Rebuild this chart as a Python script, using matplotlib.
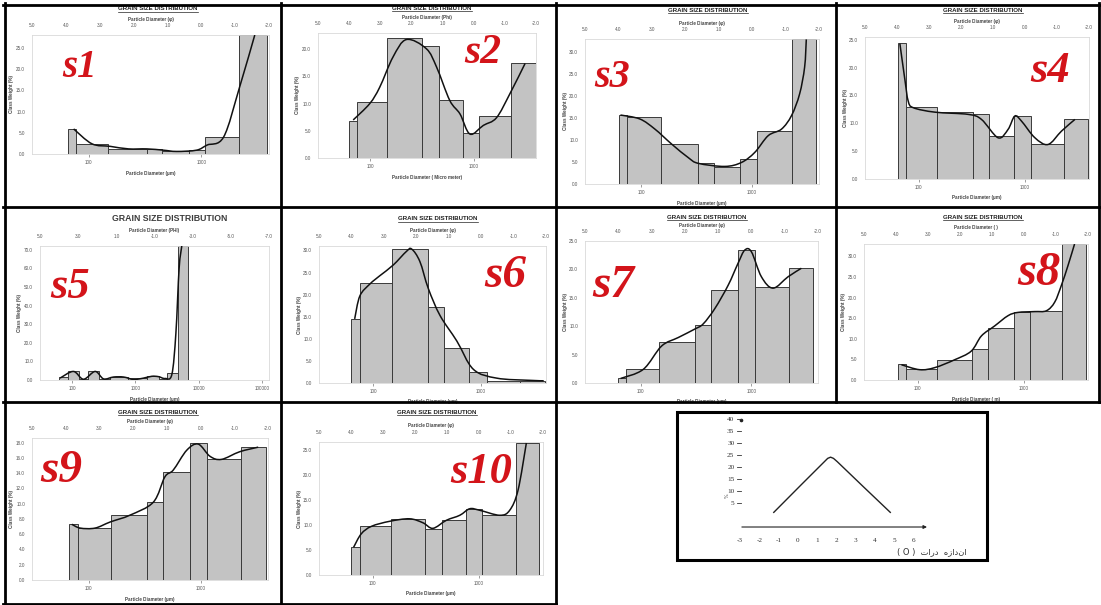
import numpy as np
import matplotlib.pyplot as plt
from matplotlib.path import Path
from matplotlib.patches import PathPatch, Rectangle
from matplotlib.lines import Line2D

# ---- sieve data: bar edges in phi, class weight (%) and the fitted curve ----
s1_edges = [3.95, 3.70, 2.75, 1.60, 1.15, 0.35, -0.10, -1.10, -1.95]
s1_weight = [6.0, 2.4, 1.2, 1.2, 0.6, 1.0, 4.0, 28.0]
s1_curve_phi = [3.77, 3.23, 2.69, 2.15, 1.61, 1.12, 0.73, 0.14, -0.17, -0.66, -1.13, -1.58]
s1_curve_pct = [5.9, 2.4, 1.8, 1.2, 1.2, 0.9, 0.6, 0.9, 2.1, 4.0, 15.7, 28.0]

s2_edges = [4.01, 3.75, 2.78, 1.65, 1.12, 0.35, -0.18, -1.20, -1.99]
s2_weight = [6.9, 10.3, 22.0, 20.6, 10.6, 4.6, 7.7, 17.4]
s2_curve_phi = [3.87, 3.34, 3.02, 2.59, 2.16, 1.52, 1.19, 0.77, 0.44, 0.12, -0.31, -0.73, -1.16, -1.65]
s2_curve_pct = [7.0, 10.0, 13.0, 18.6, 21.8, 20.1, 16.7, 10.6, 8.1, 4.4, 6.0, 7.4, 11.8, 17.4]

s3_edges = [3.97, 3.73, 2.73, 1.63, 1.14, 0.37, -0.15, -1.18, -1.92]
s3_weight = [15.8, 15.2, 9.1, 4.8, 3.9, 5.6, 12.0, 32.9]
s3_curve_phi = [3.94, 3.36, 2.91, 2.41, 1.91, 1.61, 0.82, 0.32, -0.08, -0.48, -0.88, -1.18, -1.42, -1.57, -1.62]
s3_curve_pct = [15.7, 14.8, 12.5, 9.1, 6.0, 4.7, 4.0, 4.9, 7.2, 11.0, 12.5, 15.6, 20.5, 26.6, 32.9]

s4_edges = [3.96, 3.73, 2.74, 1.64, 1.13, 0.33, -0.19, -1.23, -1.98]
s4_weight = [24.5, 13.0, 12.0, 11.6, 7.7, 11.3, 6.2, 10.8]
s4_curve_phi = [3.91, 3.75, 3.65, 3.49, 2.81, 1.77, 1.36, 0.84, 0.53, 0.32, 0.11, -0.31, -0.72, -1.14, -1.56]
s4_curve_pct = [24.3, 17.7, 14.0, 12.8, 12.0, 11.6, 10.7, 7.4, 8.9, 11.3, 10.4, 7.4, 6.2, 8.6, 10.7]

s5_edges = [3.99, 3.51, 2.95, 2.46, 1.89, 1.33, 0.40, -0.59, -1.21, -1.64, -2.22, -2.74]
s5_weight = [1.8, 5.0, 0.5, 5.0, 0.8, 1.5, 1.0, 2.0, 0.8, 3.5, 72.0]
s5_curve_phi = [3.95, 3.25, 2.72, 2.11, 1.67, 1.15, 0.62, 0.10, -0.42, -0.86, -1.21, -1.56, -1.91, -2.12, -2.29, -2.43]
s5_curve_pct = [1.0, 4.6, 0.4, 4.6, 0.6, 1.6, 1.6, 0.3, 1.0, 2.0, 1.8, 0.8, 3.0, 25.0, 60.0, 72.0]

s6_edges = [4.00, 3.74, 2.76, 1.63, 1.13, 0.36, -0.18, -1.21, -1.98]
s6_weight = [14.5, 22.7, 30.3, 17.3, 7.9, 2.5, 0.5, 0.5]
s6_curve_phi = [3.90, 3.74, 3.43, 3.12, 2.71, 2.30, 2.14, 1.89, 1.63, 1.27, 0.75, 0.24, -0.48, -1.51, -1.93]
s6_curve_pct = [14.5, 19.7, 22.4, 24.3, 26.7, 29.8, 30.3, 27.5, 21.4, 15.3, 9.5, 3.1, 1.1, 0.6, 0.5]

s7_edges = [4.02, 3.77, 2.78, 1.70, 1.20, 0.40, -0.10, -1.13, -1.85]
s7_weight = [0.8, 2.4, 7.2, 10.2, 16.3, 23.4, 16.9, 20.2]
s7_curve_phi = [3.93, 3.25, 2.70, 2.20, 1.70, 1.45, 1.10, 0.70, 0.40, 0.20, 0.00, -0.30, -0.65, -1.10, -1.50]
s7_curve_pct = [0.8, 2.4, 6.5, 8.0, 9.5, 10.4, 13.1, 17.2, 21.1, 23.4, 23.1, 18.7, 16.7, 18.7, 20.2]

s8_edges = [3.94, 3.70, 2.72, 1.63, 1.13, 0.32, -0.18, -1.20, -1.93]
s8_weight = [3.9, 2.6, 4.9, 7.5, 12.7, 16.4, 16.8, 33.0]
s8_curve_phi = [3.83, 3.26, 2.79, 2.17, 1.65, 1.33, 0.92, 0.50, 0.19, -0.33, -0.70, -0.96, -1.17, -1.38, -1.58]
s8_curve_pct = [3.7, 2.5, 3.0, 4.9, 7.0, 10.7, 13.1, 15.6, 16.4, 16.6, 16.8, 18.9, 23.0, 27.9, 33.0]

s9_edges = [3.90, 3.65, 2.66, 1.60, 1.10, 0.32, -0.20, -1.19, -1.95]
s9_weight = [7.3, 6.8, 8.5, 10.2, 14.1, 17.9, 15.8, 17.4]
s9_curve_phi = [3.82, 3.57, 3.13, 2.68, 2.09, 1.40, 1.06, 0.81, 0.41, 0.07, -0.28, -0.62, -1.16, -1.71]
s9_curve_pct = [7.3, 6.8, 6.8, 7.6, 8.5, 10.2, 13.5, 14.4, 17.0, 17.8, 16.2, 15.8, 16.8, 17.4]

s10_edges = [3.99, 3.73, 2.76, 1.68, 1.16, 0.40, -0.10, -1.15, -1.88]
s10_weight = [5.5, 9.7, 11.2, 9.2, 11.0, 13.2, 11.9, 26.3]
s10_curve_phi = [3.92, 3.68, 3.36, 2.79, 2.17, 1.75, 1.44, 1.02, 0.60, 0.29, -0.02, -0.65, -0.96, -1.22, -1.48]
s10_curve_pct = [5.5, 8.2, 9.7, 10.7, 11.2, 10.4, 9.3, 10.9, 11.9, 13.2, 12.9, 11.9, 12.9, 16.9, 26.3]

# schematic curve (phi vs %)
sketch_phi = [-1.25, 0.2, 1.35, 1.55, 1.7, 1.85, 2.05, 3.4, 4.8]
sketch_pct = [1.1, 12.8, 22.0, 23.6, 24.1, 23.6, 22.2, 11.8, 1.1]
sketch_xticks = [-3, -2, -1, 0, 1, 2, 3, 4, 5, 6]
sketch_yticks = [5, 10, 15, 20, 25, 30, 35, 40]

W, H = 1101, 605
fig = plt.figure(figsize=(W / 100, H / 100), dpi=100)
fig.patch.set_facecolor('white')

SANS = 'Liberation Sans'
RED = '#d3141a'


def px_rect(x0, x1, ytop, ybot):
    return [x0 / W, 1 - ybot / H, (x1 - x0) / W, (ybot - ytop) / H]


def smooth_path(xs, ys):
    # Catmull-Rom through the read points, as cubic bezier segments
    pts = np.column_stack([xs, ys]).astype(float)
    n = len(pts)
    verts = [pts[0]]
    codes = [Path.MOVETO]
    for i in range(n - 1):
        p0, p1 = pts[max(i - 1, 0)], pts[i]
        p2, p3 = pts[i + 1], pts[min(i + 2, n - 1)]
        verts += [p1 + (p2 - p0) / 6, p2 - (p3 - p1) / 6, p2]
        codes += [Path.CURVE4] * 3
    return Path(verts, codes)


def phi2um(p):
    return 1000.0 * 2.0 ** (-np.asarray(p, dtype=float))


def um2phi(d):
    return -np.log2(np.clip(np.asarray(d, dtype=float), 1e-9, None) / 1000.0)


def draw_panel(edges, weight, cphi, cpct, box, ymax, ystep, tag, tag_xy, tag_size,
               title_xy, phi_lim=(5, -2), phi_step=1, um_ticks=(100, 1000),
               top_label='Particle Diameter (φ)', bot_label='Particle Diameter (µm)',
               big_title=False):
    x0, x1, ytop, yzero = box
    ax = fig.add_axes(px_rect(x0, x1, ytop, yzero))
    ax.set_xlim(*phi_lim)
    ax.set_ylim(0, ymax)
    for s in ax.spines.values():
        s.set_color('#d9d9d9')
        s.set_linewidth(0.6)

    left = np.array(edges[:-1])
    right = np.array(edges[1:])
    ax.bar((left + right) / 2, weight, width=np.abs(right - left),
           color='#c3c3c3', edgecolor='#3a3a3a', linewidth=0.7, zorder=2)
    ax.add_patch(PathPatch(smooth_path(cphi, cpct), fill=False,
                           edgecolor='#111111', linewidth=1.1, zorder=3))

    # phi scale on top
    ph = np.arange(phi_lim[0], phi_lim[1] - 0.01, -phi_step)
    ax.xaxis.set_ticks_position('top')
    ax.set_xticks(ph)
    ax.set_xticklabels(['%.1f' % v for v in ph])
    ax.tick_params(axis='x', labelsize=3.3, labelcolor='#555555', length=0, pad=5)
    yt = np.arange(0, ymax + 0.01, ystep)
    ax.set_yticks(yt)
    ax.set_yticklabels(['%.1f' % v for v in yt])
    ax.tick_params(axis='y', labelsize=3.3, labelcolor='#555555', length=0, pad=5)
    for lab in ax.get_xticklabels() + ax.get_yticklabels():
        lab.set_fontfamily(SANS)

    # micrometre scale on the bottom
    sec = ax.secondary_xaxis('bottom', functions=(phi2um, um2phi))
    sec.set_xticks(list(um_ticks))
    sec.set_xticklabels([str(v) for v in um_ticks])
    sec.tick_params(labelsize=3.3, labelcolor='#555555', length=2, width=0.5,
                    color='#777777', pad=2)
    sec.spines['bottom'].set_visible(False)
    for lab in sec.get_xticklabels():
        lab.set_fontfamily(SANS)

    xc = (x0 + x1) / 2
    fig.text(xc / W, 1 - (ytop - 16) / H, top_label, ha='center', va='center',
             fontsize=3.3, fontweight='bold', color='#444444', family=SANS)
    fig.text(xc / W, 1 - (yzero + 19) / H, bot_label, ha='center', va='center',
             fontsize=3.3, fontweight='bold', color='#444444', family=SANS)
    fig.text((x0 - 20) / W, 1 - ((ytop + yzero) / 2) / H, 'Class Weight (%)',
             ha='center', va='center', rotation=90,
             fontsize=3.3, fontweight='bold', color='#444444', family=SANS)

    tx, ty = title_xy
    if big_title:
        fig.text(tx / W, 1 - ty / H, 'GRAIN SIZE DISTRIBUTION', ha='center', va='center',
                 fontsize=6.3, fontweight='bold', color='#3c3c3c', family=SANS)
    else:
        t = fig.text(tx / W, 1 - ty / H, 'GRAIN SIZE DISTRIBUTION', ha='center',
                     va='center', fontsize=4.4, fontweight='bold', color='#222222',
                     family=SANS)
        bb = t.get_window_extent(fig.canvas.get_renderer())
        yl = bb.y0 - 0.8
        fig.add_artist(Line2D([bb.x0 / W, bb.x1 / W], [yl / H, yl / H],
                              transform=fig.transFigure, color='#222222', lw=0.5))

    fig.text(tag_xy[0] / W, 1 - tag_xy[1] / H, tag, ha='left', va='baseline',
             fontsize=tag_size, fontweight='bold', fontstyle='italic',
             family='Liberation Serif', color=RED, zorder=5)
    return ax


draw_panel(s1_edges, s1_weight, s1_curve_phi, s1_curve_pct, (32, 269, 35, 154),
           28, 5, 's1', (62, 77), 28, (158, 9))
draw_panel(s2_edges, s2_weight, s2_curve_phi, s2_curve_pct, (318, 536, 33, 158),
           23, 5, 's2', (464, 63), 30, (432, 8),
           top_label='Particle Diameter (Phi)', bot_label='Particle Diameter ( Micro meter)')
draw_panel(s3_edges, s3_weight, s3_curve_phi, s3_curve_pct, (585, 819, 39, 184),
           33, 5, 's3', (594, 87), 29, (708, 10))
draw_panel(s4_edges, s4_weight, s4_curve_phi, s4_curve_pct, (865, 1089, 37, 179),
           25.5, 5, 's4', (1030, 82), 32, (983, 10))
draw_panel(s5_edges, s5_weight, s5_curve_phi, s5_curve_pct, (40, 269, 246, 380),
           72, 10, 's5', (50, 298), 32, (170, 219), phi_lim=(5, -7), phi_step=2,
           um_ticks=(100, 1000, 10000, 100000), top_label='Particle Diameter (PHI)',
           big_title=True)
draw_panel(s6_edges, s6_weight, s6_curve_phi, s6_curve_pct, (319, 546, 246, 383),
           31, 5, 's6', (484, 287), 34, (438, 219))
draw_panel(s7_edges, s7_weight, s7_curve_phi, s7_curve_pct, (585, 818, 241, 383),
           25, 5, 's7', (592, 297), 34, (707, 217))
draw_panel(s8_edges, s8_weight, s8_curve_phi, s8_curve_pct, (864, 1088, 244, 380),
           33, 5, 's8', (1017, 285), 35, (983, 217),
           top_label='Particle Diameter ( )', bot_label='Particle Diameter ( m)')
draw_panel(s9_edges, s9_weight, s9_curve_phi, s9_curve_pct, (32, 268, 438, 580),
           18.6, 2, 's9', (40, 482), 34, (158, 412))
draw_panel(s10_edges, s10_weight, s10_curve_phi, s10_curve_pct, (319, 543, 442, 575),
           26.5, 5, 's10', (450, 483), 32, (437, 412))

# ---- schematic sketch ----
axs = fig.add_axes(px_rect(700, 950, 415, 550))
axs.set_xlim(-5.08, 7.9)
axs.set_ylim(-14.58, 41.67)
axs.axis('off')
axs.plot(sketch_phi, sketch_pct, color='#222222', lw=1.0)
axs.annotate('', xy=(6.85, -5), xytext=(-3.05, -5),
             arrowprops=dict(arrowstyle='-|>', lw=0.8, color='#222222', mutation_scale=5))
axs.plot([-2.97], [39.6], marker='o', ms=1.6, color='#222222')
for v in sketch_yticks:
    axs.plot([-3.17, -2.95], [v, v], color='#333333', lw=0.6)
    axs.text(-3.3, v, str(v), ha='right', va='center', fontsize=5.2,
             family='Liberation Serif', color='#333333')
for v in sketch_xticks:
    axs.text(v, -10.7, str(v), ha='center', va='center', fontsize=5.2,
             family='Liberation Serif', color='#333333')
fig.text(727 / W, 1 - 496 / H, '%', rotation=90, ha='center', va='center',
         fontsize=3.5, color='#444444')
fig.text(967 / W, 1 - 552 / H, '( O )  تارد  هزادنا', ha='right', va='center',
         fontsize=6, family='DejaVu Sans', color='#333333')
fig.add_artist(Rectangle((677 / W, 1 - 560 / H), 310 / W, 148 / H,
                         transform=fig.transFigure, fill=False, lw=2.2,
                         edgecolor='black'))

# ---- cell frame ----
def hline(y, xa, xb, lw=2.0):
    fig.add_artist(Line2D([xa / W, xb / W], [1 - y / H, 1 - y / H],
                          transform=fig.transFigure, color='black', lw=lw, zorder=10))


def vline(x, ya, yb, lw=2.0):
    fig.add_artist(Line2D([x / W, x / W], [1 - ya / H, 1 - yb / H],
                          transform=fig.transFigure, color='black', lw=lw, zorder=10))


hline(4.5, 3, 1101)
hline(206.5, 3, 1101)
hline(401.5, 3, 1101)
hline(603.5, 3, 556)
vline(4.5, 3, 605)
vline(281, 3, 605)
vline(555.5, 3, 605)
vline(835.5, 3, 402)
vline(1099, 3, 402)

fig.savefig('out.png', dpi=100)
